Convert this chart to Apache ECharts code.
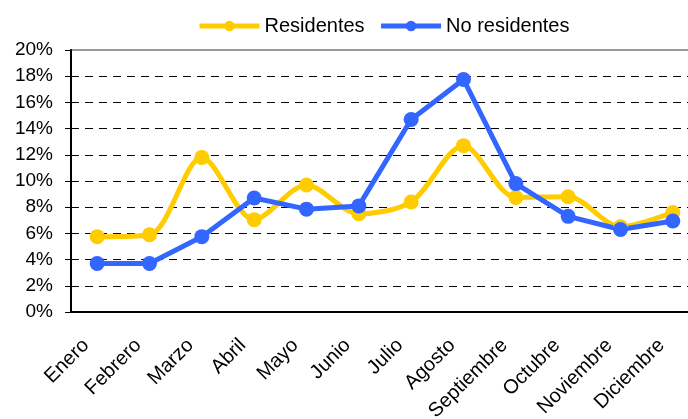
<!DOCTYPE html>
<html>
<head>
<meta charset="utf-8">
<script src="https://cdn.jsdelivr.net/npm/echarts@6/dist/echarts.min.js"></script>
<style>
  html, body { margin: 0; padding: 0; background: #fff; }
  #chart { width: 688px; height: 419px; }
</style>
</head>
<body>
<div id="chart"></div>
<script>
const months = ['Enero', 'Febrero', 'Marzo', 'Abril', 'Mayo', 'Junio', 'Julio',
    'Agosto', 'Septiembre', 'Octubre', 'Noviembre', 'Diciembre'];
const residentes = [5.75, 5.9, 11.8, 7.05, 9.7, 7.5, 8.4, 12.7, 8.75, 8.8, 6.5, 7.6];
const noResidentes = [3.7, 3.7, 5.75, 8.7, 7.85, 8.1, 14.7, 17.75, 9.8, 7.3, 6.3, 6.95];

const font = 'Liberation Sans, Arial, sans-serif';

// split lines: dashed black, the top one hidden so the grey frame shows
const splitColors = ['#000', '#000', '#000', '#000', '#000', '#000',
    '#000', '#000', '#000', '#000', 'rgba(0,0,0,0)'];

const chart = echarts.init(document.getElementById('chart'));
const option = {
    animation: false,
    legend: {
        top: 11,
        left: 192,
        itemWidth: 60,
        itemHeight: 13,
        itemGap: 14,
        lineStyle: { width: 5 },
        textStyle: { fontFamily: font, fontSize: 20, color: '#000' },
        data: ['Residentes', 'No residentes']
    },
    grid: {
        left: 71,
        top: 50,
        width: 628,
        height: 262,
        outerBoundsMode: 'none',
        containLabel: false,
        show: true,
        borderColor: '#999',
        borderWidth: 2,
        backgroundColor: 'transparent'
    },
    xAxis: {
        type: 'category',
        data: months,
        boundaryGap: true,
        axisLine: { lineStyle: { color: '#000', width: 2 } },
        axisTick: { length: 6, lineStyle: { color: '#000', width: 1 } },
        axisLabel: {
            rotate: 45,
            interval: 0,
            margin: 19,
            padding: [0, 16, 0, 0],
            fontFamily: font,
            fontSize: 20,
            color: '#000'
        }
    },
    yAxis: {
        type: 'value',
        min: 0,
        max: 20,
        interval: 2,
        axisLine: { show: true, lineStyle: { color: '#000', width: 2 } },
        axisTick: { show: true, length: 6, lineStyle: { color: '#000', width: 1 } },
        axisLabel: {
            formatter: '{value}%',
            margin: 18,
            fontFamily: font,
            fontSize: 19,
            color: '#000'
        },
        splitLine: {
            show: true,
            lineStyle: { color: splitColors, type: [8, 6], width: 1 }
        }
    },
    series: [
        {
            name: 'Residentes',
            type: 'line',
            data: residentes,
            smooth: 0.3,
            symbol: 'circle',
            symbolSize: 15,
            lineStyle: { color: '#FFCC00', width: 5 },
            itemStyle: { color: '#FFCC00' }
        },
        {
            name: 'No residentes',
            type: 'line',
            data: noResidentes,
            symbol: 'circle',
            symbolSize: 15,
            lineStyle: { color: '#3366FF', width: 5 },
            itemStyle: { color: '#3366FF' }
        }
    ]
};
chart.setOption(option);
window.addEventListener('resize', () => chart.resize());
</script>
</body>
</html>
